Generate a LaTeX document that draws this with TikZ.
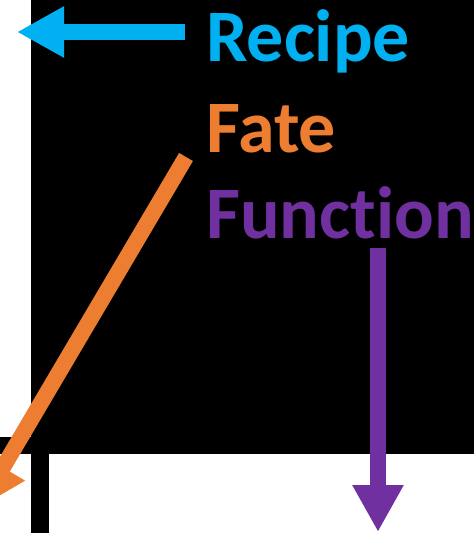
\documentclass[tikz,border=0pt]{standalone}
\usepackage{fontspec}
\setmainfont{Carlito}[Ligatures=NoCommon]
\usetikzlibrary{arrows.meta}
\definecolor{recipeblue}{HTML}{00B0F0}
\definecolor{fateorange}{HTML}{ED7D31}
\definecolor{funcpurple}{HTML}{7030A0}
\tikzset{
  label text/.style={inner sep=0pt, anchor=base west, font=\fontsize{74}{80}\selectfont\bfseries},
  fat arrow/.style={line width=16pt, -{Triangle[length=47pt, width=48pt]}},
  panel/.style={fill=black, draw=none}
}
\begin{document}
\begin{tikzpicture}[x=1pt, y=-1pt]
  \useasboundingbox (0,0) rectangle (474,533);
  \clip (0,0) rectangle (474,533);
  % black backdrop
  \fill[panel] (31,0) rectangle (474,454);
  \fill[panel] (0,437) rectangle (474,454);
  \fill[panel] (31,454) rectangle (49,533);
  % labels
  \node[label text, text=recipeblue] (recipe) at (206,61) {Recipe};
  \node[label text, text=fateorange] (fate) at (206,152) {Fate};
  \node[label text, text=funcpurple] (function) at (206,238) {Function};
  % arrow end points
  \coordinate (recipeTail) at (185,32);
  \coordinate (recipeTip) at (17,32);
  \coordinate (fateTail) at (186,157);
  \coordinate (fateTip) at (-21,508);
  \coordinate (funcTail) at (378,248);
  \coordinate (funcTip) at (378,532);
  \draw[fat arrow, recipeblue] (recipeTail) -- (recipeTip);
  \draw[fat arrow, fateorange] (fateTail) -- (fateTip);
  \draw[fat arrow, funcpurple] (funcTail) -- (funcTip);
\end{tikzpicture}
\end{document}
